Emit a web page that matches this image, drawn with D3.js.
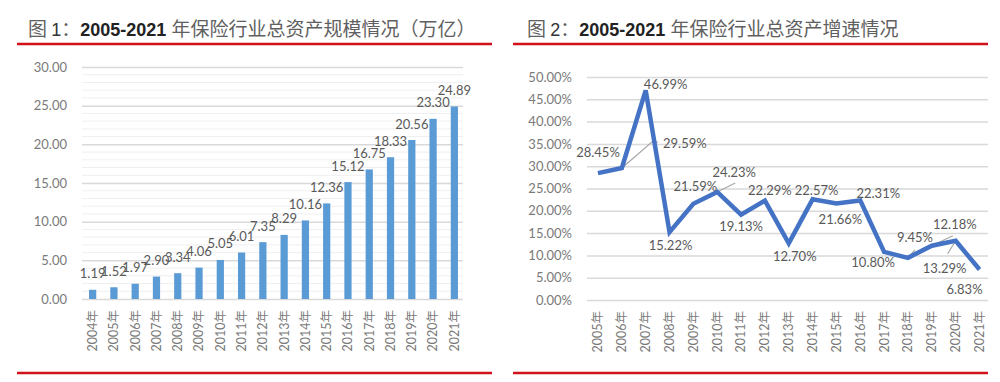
<!DOCTYPE html>
<html>
<head>
<meta charset="utf-8">
<script src="https://cdn.jsdelivr.net/npm/d3@7"></script>
<style>
  body { margin: 0; background: #fff; }
  svg { display: block; }
</style>
</head>
<body>
<svg id="chart" width="1000" height="382"></svg>
<script>
// Figure 1: total assets (trillion yuan)
const assetYears = ["2004年", "2005年", "2006年", "2007年", "2008年", "2009年", "2010年", "2011年", "2012年",
  "2013年", "2014年", "2015年", "2016年", "2017年", "2018年", "2019年", "2020年", "2021年"];
const assetValues = [1.19, 1.52, 1.97, 2.90, 3.34, 4.06, 5.05, 6.01, 7.35, 8.29, 10.16, 12.36, 15.12, 16.75, 18.33, 20.56, 23.30, 24.89];
const assetTicks = [0, 5, 10, 15, 20, 25, 30];

// Figure 2: growth rate (%)
const growthYears = ["2005年", "2006年", "2007年", "2008年", "2009年", "2010年", "2011年", "2012年",
  "2013年", "2014年", "2015年", "2016年", "2017年", "2018年", "2019年", "2020年", "2021年"];
const growthValues = [28.45, 29.59, 46.99, 15.22, 21.59, 24.23, 19.13, 22.29, 12.70, 22.57, 21.66, 22.31, 10.80, 9.45, 12.18, 13.29, 6.83];
const growthTicks = [0, 5, 10, 15, 20, 25, 30, 35, 40, 45, 50];

// label placement (offset of label centre from point) and leader line ends
const growthLabelOffsets = [[0, -21], [63, -25], [20, -6], [1, 13], [2, -17], [17, -19], [0, 12], [5, -10], [6, 13],
  [4, -9], [4, 16], [18, -7], [-11, 11], [7, -20], [23, -21], [-11, 28], [-15, 20]];
const growthLeaders = { 1: [[30, -26], [36, -26]], 5: [[18, -9]], 13: [[7, -8]], 14: [[21, -10]], 15: [[-8, 13]] };

const svg = d3.select("#chart");
const tickFont = "Lato, 'Noto Sans CJK SC', sans-serif";
const tickColor = "#7a7a7a";
const labelColor = "#595959";
const red = "#d0121b";

// ---------- titles & red rules ----------
function title(x, num, rest) {
  const cjk = "'Noto Sans CJK SC', sans-serif";
  const latin = "'Liberation Sans', Arial, sans-serif";
  const t = svg.append("text").attr("x", x).attr("y", 36).attr("font-size", "18px");
  t.append("tspan").attr("font-family", cjk).attr("fill", "#606060").attr("font-size", "19px").text("图 ");
  t.append("tspan").attr("font-family", latin).attr("fill", "#333").text(num);
  t.append("tspan").attr("font-family", cjk).attr("fill", "#606060").attr("font-size", "19px").text("：");
  t.append("tspan").attr("font-family", latin).attr("fill", "#222")
    .attr("font-weight", "bold").text("2005-2021  ");
  t.append("tspan").attr("font-family", cjk).attr("fill", "#606060").attr("font-size", "19px").text(rest);
}
title(28, "1", "年保险行业总资产规模情况（万亿）");
title(527, "2", "年保险行业总资产增速情况");

[[17, 492], [513, 988]].forEach(([a, b]) => {
  [44, 373].forEach(y => {
    svg.append("line").attr("x1", a).attr("x2", b).attr("y1", y).attr("y2", y)
      .attr("stroke", red).attr("stroke-width", 2.5);
  });
});

// ---------- left chart: bars ----------
const x1 = d3.scaleBand().domain(assetYears).range([82, 465]).paddingInner(0.66).paddingOuter(0.33);
const y1 = d3.scaleLinear().domain([0, 30]).range([299, 67]);

const g1 = svg.append("g");
// minor grid every 1
g1.selectAll(".minor").data(d3.range(0, 31).filter(v => v % 5 !== 0)).join("line")
  .attr("x1", 82).attr("x2", 463).attr("y1", d => y1(d)).attr("y2", d => y1(d))
  .attr("stroke", "#efefef").attr("stroke-width", 1);

const yAxis1 = g1.append("g").attr("transform", "translate(82,0)")
  .call(d3.axisLeft(y1).tickValues(assetTicks).tickFormat(d3.format(".2f")).tickSize(-381).tickPadding(15));
yAxis1.select(".domain").remove();
yAxis1.selectAll(".tick line").attr("stroke", "#d9d9d9").attr("stroke-width", 1.5);
yAxis1.selectAll(".tick text").attr("font-family", tickFont).attr("font-size", "13px").attr("fill", tickColor);

g1.selectAll(".bar").data(assetValues).join("rect")
  .attr("x", (d, i) => x1(assetYears[i]))
  .attr("width", x1.bandwidth())
  .attr("y", d => y1(d))
  .attr("height", d => y1(0) - y1(d))
  .attr("fill", "#5b9bd5");

g1.selectAll(".val").data(assetValues).join("text")
  .attr("x", (d, i) => x1(assetYears[i]) + x1.bandwidth() / 2)
  .attr("y", d => y1(d) - 16)
  .attr("dy", "0.35em")
  .attr("text-anchor", "middle")
  .attr("font-family", tickFont).attr("font-size", "13px").attr("fill", labelColor)
  .text(d => d.toFixed(2));

g1.selectAll(".xl").data(assetYears).join("text")
  .attr("transform", d => `translate(${x1(d) + x1.bandwidth() / 2},310) rotate(-90)`)
  .attr("text-anchor", "end").attr("dy", "0.35em")
  .attr("font-family", tickFont).attr("font-size", "12.5px").attr("fill", tickColor)
  .text(d => d);

// ---------- right chart: line ----------
const x2 = d3.scalePoint().domain(growthYears).range([598, 979.5]);
const y2 = d3.scaleLinear().domain([0, 50]).range([300, 77]);

const g2 = svg.append("g");
const yAxis2 = g2.append("g").attr("transform", "translate(587,0)")
  .call(d3.axisLeft(y2).tickValues(growthTicks).tickFormat(d => d.toFixed(2) + "%").tickSize(-401).tickPadding(15));
yAxis2.select(".domain").remove();
yAxis2.selectAll(".tick line").attr("stroke", "#d9d9d9").attr("stroke-width", 1.5);
yAxis2.selectAll(".tick text").attr("font-family", tickFont).attr("font-size", "13px").attr("fill", tickColor);

// leader lines
growthValues.forEach((v, i) => {
  if (!growthLeaders[i]) return;
  const px = x2(growthYears[i]), py = y2(v);
  const pts = [[px, py]].concat(growthLeaders[i].map(([dx, dy]) => [px + dx, py + dy]));
  g2.append("path").attr("d", d3.line()(pts)).attr("fill", "none")
    .attr("stroke", "#a6a6a6").attr("stroke-width", 1.2);
});

g2.append("path")
  .datum(growthValues)
  .attr("d", d3.line().x((d, i) => x2(growthYears[i])).y(d => y2(d)))
  .attr("fill", "none").attr("stroke", "#4472c4").attr("stroke-width", 4.5)
  .attr("stroke-linejoin", "miter");

g2.selectAll(".val").data(growthValues).join("text")
  .attr("x", (d, i) => x2(growthYears[i]) + growthLabelOffsets[i][0])
  .attr("y", (d, i) => y2(d) + growthLabelOffsets[i][1])
  .attr("dy", "0.35em")
  .attr("text-anchor", "middle")
  .attr("font-family", tickFont).attr("font-size", "13px").attr("fill", labelColor)
  .text(d => d.toFixed(2) + "%");

g2.selectAll(".xl").data(growthYears).join("text")
  .attr("transform", d => `translate(${x2(d)},311) rotate(-90)`)
  .attr("text-anchor", "end").attr("dy", "0.35em")
  .attr("font-family", tickFont).attr("font-size", "12.5px").attr("fill", tickColor)
  .text(d => d);
</script>
</body>
</html>
